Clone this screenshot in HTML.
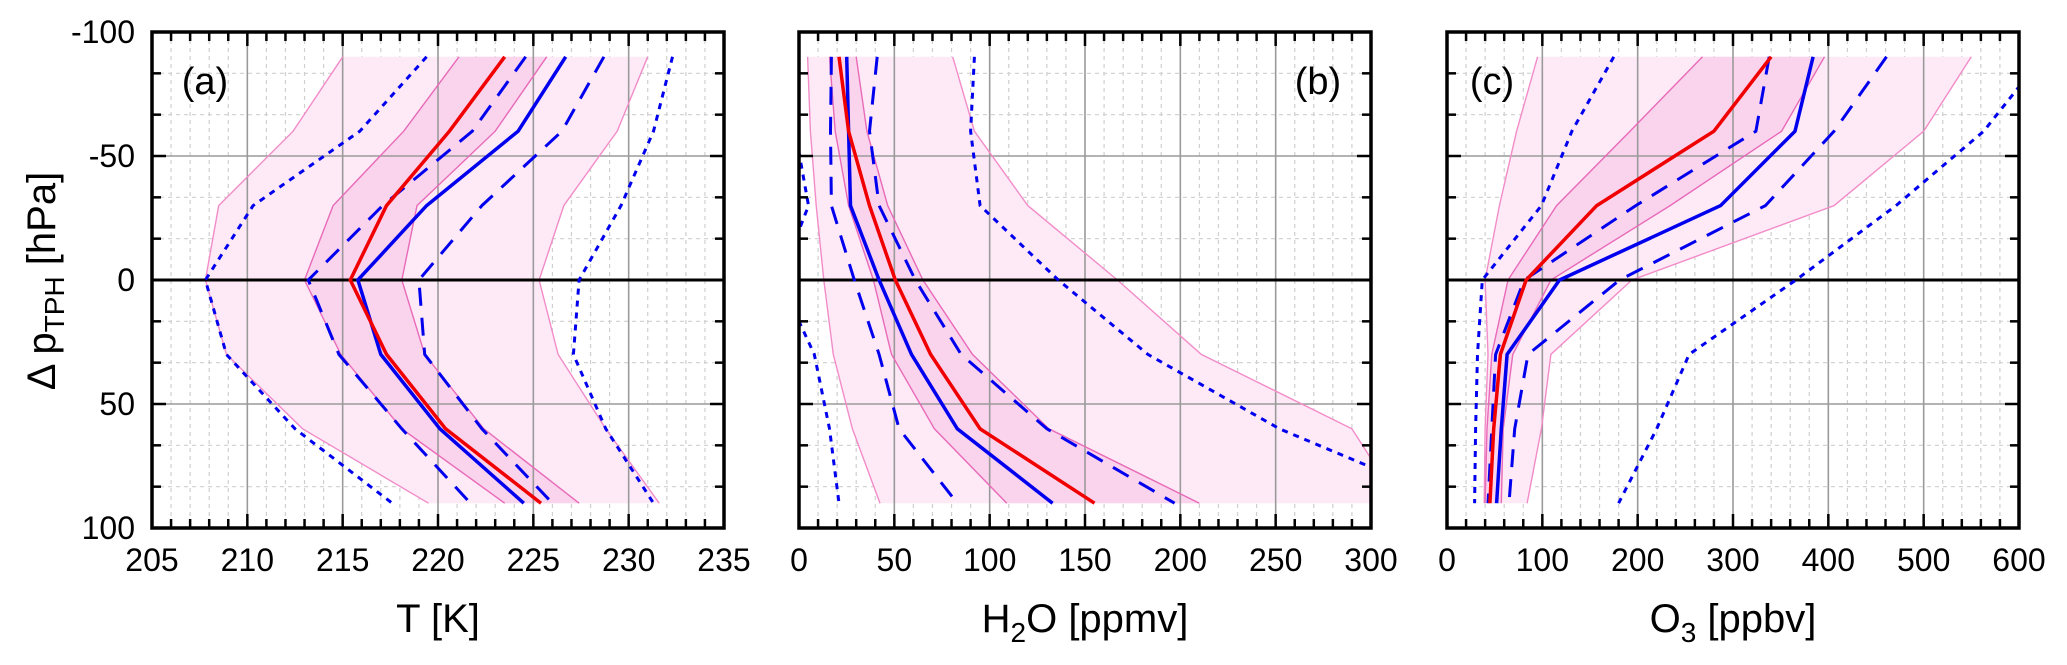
<!DOCTYPE html>
<html><head><meta charset="utf-8">
<style>
html,body{margin:0;padding:0;background:#fff;}
svg{display:block;font-family:"Liberation Sans",Arial,sans-serif;}
</style></head>
<body>
<svg id="chart" width="2067" height="665" viewBox="0 0 2067 665" xmlns="http://www.w3.org/2000/svg"></svg>
<script>
// Pressure levels (hPa relative to tropopause)
const levels = [-90, -60, -30, 0, 30, 60, 90];
// Panel (a) temperature [K]
const tRed = [223.5, 220.6, 217.3, 215.4, 217.3, 220.4, 225.4];
const tBlue = [226.7, 224.2, 219.4, 215.8, 217.0, 220.1, 224.5];
const tBlueDashL = [224.6, 221.8, 217.1, 213.2, 214.8, 218.1, 221.7];
const tBlueDashR = [228.7, 226.5, 222.3, 219.0, 219.3, 222.3, 226.0];
const tBlueDotL = [219.4, 215.9, 210.3, 207.8, 208.9, 212.5, 217.6];
const tBlueDotR = [232.3, 231.3, 229.6, 227.4, 227.1, 228.8, 231.3];
const tPinkOutL = [215.0, 212.4, 208.5, 207.8, 208.9, 212.9, 219.5];
const tPinkOutR = [231.0, 229.4, 226.6, 225.3, 226.3, 228.8, 231.6];
const tPinkInL = [221.1, 218.2, 214.5, 213.0, 214.9, 218.1, 223.5];
const tPinkInR = [225.7, 223.0, 218.9, 218.1, 219.3, 222.4, 227.4];
// Panel (b) H2O [ppmv]
const wRed = [21, 26, 37, 50.5, 69, 95, 155];
const wBlue = [25, 26, 27, 42, 59, 83, 133];
const wBlueDashL = [17, 16.5, 17, 29, 42, 52.5, 83];
const wBlueDashR = [41, 37, 42, 61, 85, 130, 197];
const wBlueDotL = [-10, -2, 5, -10, 8, 16, 21];
const wBlueDotR = [92, 90, 95, 136, 183, 252, 345];
const wPinkOutL = [4.5, 6, 9, 13, 18, 28, 42.5];
const wPinkOutR = [80.6, 92, 120, 167, 211, 290, 315];
const wPinkInL = [16, 19, 26, 39, 48.5, 71, 109];
const wPinkInR = [30, 35.6, 46.5, 65, 91, 131, 210];
// Panel (c) O3 [ppbv]
const oRed = [340, 280, 157, 83, 56, 49, 45];
const oBlue = [384, 365, 287, 118, 63, 57, 52];
const oBlueDashL = [338, 324, 198, 81, 51, 47, 43];
const oBlueDashR = [461, 406, 334, 181, 85, 71, 65];
const oBlueDotL = [175, 131, 99, 37, 32, 30, 29];
const oBlueDotR = [625, 563, 471, 366, 254, 220, 180];
const oPinkOutL = [95, 73, 55, 40, 43, 40, 39];
const oPinkOutR = [550, 500, 406, 194, 109, 99, 84];
const oPinkInL = [268, 192, 115, 64, 47, 42, 40];
const oPinkInR = [396, 351, 234, 109, 69, 59, 57];
// Tick labels
const yTicks = [-100, -50, 0, 50, 100];
const aTicks = [205, 210, 215, 220, 225, 230, 235];
const bTicks = [0, 50, 100, 150, 200, 250, 300];
const cTicks = [0, 100, 200, 300, 400, 500, 600];

const NS = "http://www.w3.org/2000/svg";
const svg = document.getElementById("chart");
const Y0 = 32, Y1 = 528;
function yS(p){ return Y0 + (p + 100) / 200 * (Y1 - Y0); }
function mk(tag, attrs, parent){
  const e = document.createElementNS(NS, tag);
  for (const k in attrs) e.setAttribute(k, attrs[k]);
  (parent || svg).appendChild(e);
  return e;
}
function ptsOf(xs, xf){ return levels.map((p,i)=> xf(xs[i]).toFixed(1)+","+yS(p).toFixed(1)); }

const panels = [
  {id:"a", x0:152, x1:724, min:205, max:235, minor:1, ticks:aTicks, label:"(a)", lx:205, anchor:"middle",
   red:tRed, blue:tBlue, dl:tBlueDashL, dr:tBlueDashR, ol:tBlueDotL, or:tBlueDotR, pol:tPinkOutL, por:tPinkOutR, pil:tPinkInL, pir:tPinkInR},
  {id:"b", x0:799, x1:1371, min:0, max:300, minor:10, ticks:bTicks, label:"(b)", lx:1318, anchor:"middle",
   red:wRed, blue:wBlue, dl:wBlueDashL, dr:wBlueDashR, ol:wBlueDotL, or:wBlueDotR, pol:wPinkOutL, por:wPinkOutR, pil:wPinkInL, pir:wPinkInR},
  {id:"c", x0:1447, x1:2019, min:0, max:600, minor:20, ticks:cTicks, label:"(c)", lx:1492, anchor:"middle",
   red:oRed, blue:oBlue, dl:oBlueDashL, dr:oBlueDashR, ol:oBlueDotL, or:oBlueDotR, pol:oPinkOutL, por:oPinkOutR, pil:oPinkInL, pir:oPinkInR}
];

const defs = mk("defs", {});
panels.forEach(P => {
  const xS = v => P.x0 + (v - P.min) / (P.max - P.min) * (P.x1 - P.x0);
  const cp = mk("clipPath", {id:"clip-"+P.id}, defs);
  mk("rect", {x:P.x0, y:Y0, width:P.x1-P.x0, height:Y1-Y0}, cp);
  const g = mk("g", {"clip-path":"url(#clip-"+P.id+")"});
  
  
  const nMinor = Math.round((P.max-P.min)/P.minor);
  for (let i=1;i<nMinor;i++){
    const v = P.min + i*P.minor;
    if (i % 5 === 0) continue;
    const l = mk("line", {x1:xS(v), x2:xS(v), y1:Y0, y2:Y1, stroke:"#cfcfcf", "stroke-width":1.2, "stroke-dasharray":"4 4"}, g);
    
    
  }
  for (let j=1;j<12;j++){
    if (j % 3 === 0) continue;
    const p = -100 + j*50/3;
    const l = mk("line", {x1:P.x0, x2:P.x1, y1:yS(p), y2:yS(p), stroke:"#cfcfcf", "stroke-width":1.2, "stroke-dasharray":"4 4"}, g);
    
    
  }
  const outer = ptsOf(P.pol, xS).concat(ptsOf(P.por, xS).reverse()).join(" ");
  const f1 = mk("polygon", {points:outer, fill:"#fdeaf6"}, g);
  
  
  const inner = ptsOf(P.pil, xS).concat(ptsOf(P.pir, xS).reverse()).join(" ");
  const f2 = mk("polygon", {points:inner, fill:"#fad2ec", "fill-opacity":0.9}, g);
  
  
  P.ticks.forEach((v,i)=>{
    if (i===0 || i===P.ticks.length-1) return;
    const l = mk("line", {x1:xS(v), x2:xS(v), y1:Y0, y2:Y1, stroke:"#9a9a9a", "stroke-width":1.6}, g);
    
    
  });
  [-50, 50].forEach(p=>{
    const l = mk("line", {x1:P.x0, x2:P.x1, y1:yS(p), y2:yS(p), stroke:"#9a9a9a", "stroke-width":1.6}, g);
    
    
  });
  [P.pol, P.por].forEach(s=>{
    const l = mk("polyline", {points:ptsOf(s,xS).join(" "), fill:"none", stroke:"#f28cc8", "stroke-width":1.4}, g);
    
    
  });
  [P.pil, P.pir].forEach(s=>{
    const l = mk("polyline", {points:ptsOf(s,xS).join(" "), fill:"none", stroke:"#e86ab8", "stroke-width":1.4}, g);
    
    
  });
  const z = mk("line", {x1:P.x0, x2:P.x1, y1:yS(0), y2:yS(0), stroke:"#000", "stroke-width":3}, g);
  
  
  [P.ol, P.or].forEach(s=>{
    const l = mk("polyline", {points:ptsOf(s,xS).join(" "), fill:"none", stroke:"#0000ee", "stroke-width":3, "stroke-dasharray":"6 6"}, g);
    
    
  });
  [P.dl, P.dr].forEach(s=>{
    const l = mk("polyline", {points:ptsOf(s,xS).join(" "), fill:"none", stroke:"#0000ee", "stroke-width":3, "stroke-dasharray":"18 12"}, g);
    
    
  });
  const bl = mk("polyline", {points:ptsOf(P.blue,xS).join(" "), fill:"none", stroke:"#0000ee", "stroke-width":3.5}, g);
  
  
  const rl = mk("polyline", {points:ptsOf(P.red,xS).join(" "), fill:"none", stroke:"#f00000", "stroke-width":3.5}, g);
  
  
  for (let i=0;i<=nMinor;i++){
    const v = P.min + i*P.minor, major = i%5===0, len = major?14:9;
    const t1 = mk("line", {x1:xS(v), x2:xS(v), y1:Y1, y2:Y1-len, stroke:"#000", "stroke-width":2.5});
    
    
    const t2 = mk("line", {x1:xS(v), x2:xS(v), y1:Y0, y2:Y0+len, stroke:"#000", "stroke-width":2.5});
    
    
  }
  for (let j=0;j<=12;j++){
    const p = -100 + j*50/3, major = j%3===0, len = major?14:9;
    const t1 = mk("line", {x1:P.x0, x2:P.x0+len, y1:yS(p), y2:yS(p), stroke:"#000", "stroke-width":2.5});
    
    
    const t2 = mk("line", {x1:P.x1, x2:P.x1-len, y1:yS(p), y2:yS(p), stroke:"#000", "stroke-width":2.5});
    
    
  }
  const fr = mk("rect", {x:P.x0, y:Y0, width:P.x1-P.x0, height:Y1-Y0, fill:"none", stroke:"#000", "stroke-width":3.5});
  
  
  P.ticks.forEach(v=>{
    const t = mk("text", {x:xS(v), y:571, "font-size":32, "text-anchor":"middle"});
    t.textContent = v;
    
    
  });
  const lab = mk("text", {x:P.lx, y:94, "font-size":38, "text-anchor":P.anchor});
  lab.textContent = P.label;
  
  
});
yTicks.forEach(p=>{
  const t = mk("text", {x:135, y:yS(p)+11, "font-size":32, "text-anchor":"end"});
  t.textContent = p;
  
  
});
</script>
<svg style="position:absolute;left:0;top:0" width="2067" height="665">
  <text transform="translate(55,281) rotate(-90)" text-anchor="middle" font-size="40" font-family="Liberation Sans, sans-serif">Δ p<tspan font-size="28" dy="9">TPH</tspan><tspan dy="-9"> [hPa]</tspan></text>
  <text x="438" y="632" text-anchor="middle" font-size="40" font-family="Liberation Sans, sans-serif">T [K]</text>
  <text x="1085" y="632" text-anchor="middle" font-size="40" font-family="Liberation Sans, sans-serif">H<tspan font-size="28" dy="10">2</tspan><tspan dy="-10">O  [ppmv]</tspan></text>
  <text x="1733" y="632" text-anchor="middle" font-size="40" font-family="Liberation Sans, sans-serif">O<tspan font-size="28" dy="10">3</tspan><tspan dy="-10"> [ppbv]</tspan></text>
</svg>
</body></html>
